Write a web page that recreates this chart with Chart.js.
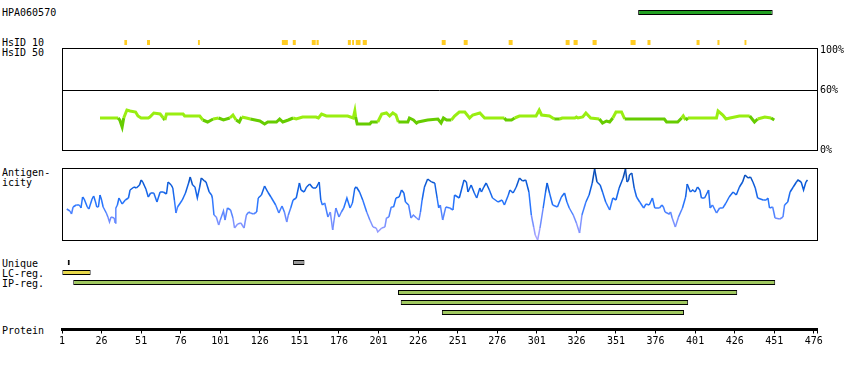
<!DOCTYPE html>
<html>
<head>
<meta charset="utf-8">
<script src="https://cdn.jsdelivr.net/npm/chart.js@4.4.0/dist/chart.umd.min.js"></script>
<style>
  body { margin: 0; background: #fff; }
  #wrap { position: relative; width: 850px; height: 370px; background: #fff; overflow: hidden; }
  #wrap canvas { position: absolute; left: 0; }
  .lbl { position: absolute; left: 2px; font: 10px/10px 'DejaVu Sans Mono', monospace; color: #000; white-space: pre; }
</style>
</head>
<body>
<div id="wrap">
  <div class="lbl" style="top:8px">HPA060570</div>
  <div class="lbl" style="top:38px">HsID 10</div>
  <div class="lbl" style="top:48px">HsID 50</div>
  <div class="lbl" style="top:168px">Antigen-</div>
  <div class="lbl" style="top:178px">icity</div>
  <div class="lbl" style="top:259px">Unique</div>
  <div class="lbl" style="top:269px">LC-reg.</div>
  <div class="lbl" style="top:279px">IP-reg.</div>
  <div class="lbl" style="top:326px">Protein</div>

  <canvas id="topTracks" width="850" height="50" style="top:0px"></canvas>
  <canvas id="hsidChart" width="850" height="122" style="top:38px"></canvas>
  <canvas id="antigenChart" width="850" height="90" style="top:160px"></canvas>
  <canvas id="regionTracks" width="850" height="70" style="top:250px"></canvas>
  <canvas id="proteinAxis" width="850" height="70" style="top:300px"></canvas>
</div>

<script>
// ---- data (residue positions) ----
const proteinLength = 478;
const proteinTicks = [1, 26, 51, 76, 101, 126, 151, 176, 201, 226, 251, 276, 301, 326, 351, 376, 401, 426, 451, 476];

const hpaEpitope = [365, 450];
const hsid10Ranges = [
  [40.4, 42.1], [54.7, 56.6], [86.9, 88.1], [139.9, 143.7], [146.8, 148.7], [158.8, 161.3],
  [161.8, 163.2], [181.6, 183.5], [184.3, 185.5], [186.6, 189.6], [191, 193.6], [240.9, 243.4],
  [254.8, 257.3], [283.2, 285.7], [319.2, 321.7], [324.2, 326.8], [336.2, 338.8], [360.2, 363.4],
  [370.9, 372.8], [401.9, 403.8], [415.1, 416.4], [432.2, 433.4]
];
const uniqueRanges = [[4.6, 5.9], [147, 154.2]];
const lcRegions = [[1.2, 19.1]];
const ipRegions = [[8.1, 451.6], [213.3, 427.6], [215, 396.6], [241, 394]];

// HsID 50 identity (%)
const hsidResidue = [25, 36.5, 37.5, 39, 40, 42, 44, 47.5, 49, 51, 55.5, 56.5, 59, 63, 65, 66, 67, 77.5, 78.5, 88,
  90, 93, 96.5, 100, 103, 107, 109, 111, 113, 114.5, 117.5, 120, 126, 129, 131, 136.5, 138.5, 140.5, 144, 147,
  149, 153, 161.5, 163, 165, 168, 181.5, 185, 186, 186.5, 187.5, 195.5, 196.5, 200.5, 203, 206, 208, 210, 212, 213.5,
  219.5, 220.5, 223, 225, 226, 232, 238.5, 240.5, 242, 244, 247, 249, 252, 255.5, 258.5, 260.5, 265, 268, 280.5, 281.5,
  285, 287, 290, 300.5, 302.5, 304, 309, 312, 315.5, 317, 325, 326, 327, 330, 332, 335, 340.5, 341.5, 342.5, 345,
  347, 349, 351, 354.5, 356.5, 381.5, 383, 390, 392.5, 393.5, 395, 396.5, 414.5, 415.5, 418.5, 420.5, 423, 429, 435.5, 438.5,
  440.5, 445, 449, 451];
const hsidIdentity = [32, 32, 30, 23, 32, 40, 39, 38, 34, 32, 32, 33, 37, 36, 32, 30, 36, 36, 34, 34,
  30, 28, 31, 32, 30, 32, 35, 30, 28, 33, 32, 31, 29, 26, 28, 28, 31, 28, 30, 32,
  31, 33, 33, 32, 36, 34, 34, 32, 39, 33, 26, 26, 28, 28, 36, 37, 34, 37, 35, 28,
  28, 32, 30, 27, 28, 30, 31, 27, 32, 30, 30, 34, 38, 38, 32, 35, 37, 32, 32, 30,
  30, 32, 34, 34, 40, 35, 34, 31, 31, 32, 32, 33, 32, 33, 37, 32, 31, 29, 27, 29,
  28, 32, 38, 38, 31, 31, 28, 28, 32, 34, 30, 32, 32, 39, 35, 31, 32, 34, 34, 28,
  31, 33, 32, 30];

// Antigenicity profile
const antigenResidue = [4, 6, 7, 8, 10, 12, 13, 14, 15, 17, 18, 20, 21, 22, 23, 24, 25, 26, 27, 29,
  30, 31, 32, 34, 34.5, 35, 36, 37, 39, 41, 43, 44, 46.5, 48, 50, 51, 52, 54, 55.5, 57,
  59, 61, 63, 65, 67, 68, 70, 71, 72, 73, 74, 77, 79, 81, 82, 83.5, 85, 86.5, 88, 89,
  91, 92, 94, 95.5, 96, 97, 98.5, 100, 101, 103, 104, 105.5, 107.5, 109, 110, 112, 114, 116, 117.5, 119,
  120, 122, 124, 125, 127, 129, 131, 133, 136, 138, 140, 141.5, 143, 144, 145.5, 147, 149, 151, 152, 154,
  155.5, 157.5, 159.5, 161.5, 163.5, 164.5, 165.5, 167, 169, 170.5, 172, 174, 176, 177.5, 179, 181, 183, 184.5, 186, 187,
  189, 191, 193.5, 195.5, 197.5, 199.5, 200.5, 203, 205, 206, 207.5, 209, 210.5, 212, 214, 215.5, 217, 218, 220, 221.5,
  223, 225, 226.5, 227.5, 228.5, 230, 232, 234.5, 236.5, 238, 239, 240, 241.5, 243.5, 246, 248, 249, 252, 255, 256.5,
  257.5, 259.5, 261.5, 263, 265, 266, 267.5, 269, 271, 273, 276.5, 279, 280.5, 283, 284, 286, 288, 290, 292, 294,
  296, 297.5, 299, 300, 301.5, 303, 305, 306.5, 307.5, 309, 311, 314, 316.5, 318.5, 320, 321.5, 324, 326, 328, 329.5,
  332, 334, 336, 337.5, 339, 341, 342.5, 344.5, 347, 349, 351, 353, 355.5, 357, 358, 359, 359.5, 361, 362.5, 364,
  366, 368.5, 370, 372, 374, 375.5, 378.5, 380, 381, 382, 384.5, 385.5, 386.5, 388.5, 390.5, 393, 395, 396, 398, 399.5,
  401, 402.5, 404, 405, 407, 409.5, 410.5, 412, 414.5, 416.5, 418.5, 420.5, 422.5, 425, 427, 429, 431, 432.5, 434.5, 436,
  437.5, 439, 440.5, 444, 446, 447, 448, 450, 451.5, 454.5, 456.5, 457.5, 459.5, 461, 463, 465, 466, 468, 469.5, 471, 472];
const antigenScore = [31, 29, 26, 33, 35, 35, 32, 43, 41, 33, 31, 41, 44, 39, 33, 33, 45, 40, 33, 27,
  23, 18, 23, 22, 17, 32, 35, 42, 36, 40, 42, 50, 53, 52, 55, 60, 58, 51, 43, 47,
  47, 38, 48, 48, 46, 58, 55, 52, 40, 27, 33, 40, 47, 57, 63, 55, 53, 42, 53, 62,
  59, 58, 48, 45, 42, 25, 23, 15, 20, 29, 20, 32, 30, 22, 12, 16, 17, 12, 25, 28,
  27, 26, 28, 42, 45, 54, 48, 43, 35, 27, 34, 28, 18, 25, 32, 40, 42, 57, 50, 48,
  53, 56, 52, 52, 58, 40, 35, 37, 23, 28, 10, 32, 23, 28, 32, 42, 32, 37, 52, 53,
  48, 40, 28, 20, 13, 12, 8, 12, 13, 22, 23, 33, 33, 42, 43, 50, 47, 38, 35, 22,
  25, 22, 20, 28, 40, 53, 61, 58, 57, 42, 32, 35, 20, 33, 32, 30, 45, 42, 60, 58,
  48, 55, 47, 42, 52, 48, 53, 57, 50, 42, 38, 40, 35, 45, 50, 47, 53, 62, 59, 60,
  48, 25, 13, 5, 0, 12, 32, 48, 57, 47, 35, 33, 43, 47, 38, 32, 25, 17, 7, 25,
  38, 45, 57, 71, 58, 55, 48, 38, 30, 42, 40, 52, 62, 71, 58, 60, 65, 67, 52, 43,
  38, 32, 36, 35, 42, 32, 32, 35, 33, 28, 26, 28, 22, 13, 23, 32, 43, 56, 48, 50,
  48, 53, 50, 42, 42, 50, 32, 35, 27, 32, 32, 37, 43, 48, 45, 53, 58, 65, 62, 63,
  58, 52, 42, 40, 40, 42, 32, 33, 22, 21, 23, 35, 38, 48, 53, 58, 60, 58, 50, 58, 60];

// ---- shared setup ----
Chart.defaults.font.family = "'DejaVu Sans Mono', monospace";
Chart.defaults.font.size = 10;
Chart.defaults.color = '#000';
Chart.defaults.animation = false;
Chart.defaults.responsive = false;
Chart.defaults.devicePixelRatio = 1;
Chart.defaults.plugins.legend.display = false;
Chart.defaults.plugins.tooltip.enabled = false;

const xScale = { type: 'linear', min: 1, max: proteinLength, display: false };

// frame round the plot area of the two profile panels
const boxPlugin = {
  id: 'box',
  afterDraw(chart) {
    const { ctx, chartArea: a } = chart;
    ctx.save();
    ctx.strokeStyle = '#000';
    ctx.lineWidth = 1;
    ctx.strokeRect(Math.round(a.left) + 0.5, Math.round(a.top) + 0.5,
      Math.round(a.right - a.left), Math.round(a.bottom - a.top));
    ctx.restore();
  }
};

const toBars = (ranges, row) => ranges.map(r => ({ x: r, y: row }));

// ---- HPA epitope + HsID 10 ticks ----
new Chart(document.getElementById('topTracks'), {
  type: 'bar',
  data: {
    labels: ['HPA', 'gap1', 'gap2', 'HsID10'],
    datasets: [
      { data: toBars([hpaEpitope], 'HPA'), backgroundColor: '#22a022', borderColor: '#000', borderWidth: 1 },
      { data: toBars(hsid10Ranges, 'HsID10'), backgroundColor: '#ffcc22', borderWidth: 0 }
    ]
  },
  options: {
    indexAxis: 'y',
    layout: { padding: { left: 62, right: 33, top: 7.5, bottom: 2.5 } },
    datasets: { bar: { barThickness: 5, grouped: false, borderSkipped: false, inflateAmount: 0 } },
    scales: { x: xScale, y: { type: 'category', display: false } }
  }
});

// ---- HsID 50 panel ----
new Chart(document.getElementById('hsidChart'), {
  type: 'line',
  data: {
    datasets: [{
      data: hsidResidue.map((r, i) => ({ x: r, y: hsidIdentity[i] })),
      borderWidth: 3,
      pointRadius: 0,
      borderColor: '#99ee11',
      segment: {
        borderColor: ctx => ((ctx.p0.parsed.y + ctx.p1.parsed.y) / 2 < 31.5 ? '#66cc00' : '#99ee11')
      }
    }]
  },
  options: {
    layout: { padding: { left: 62, right: 0, top: 10, bottom: 10 } },
    scales: {
      x: xScale,
      y: {
        position: 'right', min: 0, max: 102,
        afterBuildTicks: axis => { axis.ticks = [0, 60, 100].map(v => ({ value: v })); },
        afterFit: axis => { axis.width = 33; },
        ticks: { padding: 3, callback: v => v + '%' },
        grid: { drawTicks: false, color: ctx => (ctx.tick && ctx.tick.value === 60 ? '#000' : 'rgba(0,0,0,0)') },
        border: { display: false }
      }
    }
  },
  plugins: [boxPlugin]
});

// ---- Antigenicity panel ----
const lowC = [178, 168, 255], midLowC = [110, 140, 255], midC = [40, 118, 255], hiC = [12, 92, 220], topC = [5, 66, 160];
function antColor(v) {
  const stops = [[0, lowC], [0.3, midLowC], [0.5, midC], [0.75, hiC], [1, topC]];
  const t = Math.max(0, Math.min(1, v / 72));
  for (let i = 1; i < stops.length; i++) {
    if (t <= stops[i][0]) {
      const [t0, c0] = stops[i - 1], [t1, c1] = stops[i];
      const f = (t - t0) / (t1 - t0);
      return 'rgb(' + c0.map((c, k) => Math.round(c + (c1[k] - c) * f)).join(',') + ')';
    }
  }
  return 'rgb(' + topC.join(',') + ')';
}

new Chart(document.getElementById('antigenChart'), {
  type: 'line',
  data: {
    datasets: [{
      data: antigenResidue.map((r, i) => ({ x: r, y: antigenScore[i] })),
      borderWidth: 1.5,
      pointRadius: 0,
      borderColor: '#2878ff',
      segment: { borderColor: ctx => antColor((ctx.p0.parsed.y + ctx.p1.parsed.y) / 2) }
    }]
  },
  options: {
    layout: { padding: { left: 62, right: 33, top: 8, bottom: 10 } },
    scales: { x: xScale, y: { min: 0, max: 72, display: false } }
  },
  plugins: [boxPlugin]
});

// ---- Unique / LC-reg / IP-reg tracks ----
const regionRows = ['Unique', 'LC-reg.', 'IP-1', 'IP-2', 'IP-3', 'IP-4'];
new Chart(document.getElementById('regionTracks'), {
  type: 'bar',
  data: {
    labels: regionRows,
    datasets: [
      { data: toBars(uniqueRanges, 'Unique'), backgroundColor: ['#000', '#999'], borderColor: '#000', borderWidth: 1 },
      { data: toBars(lcRegions, 'LC-reg.'), backgroundColor: '#e8d84a', borderColor: '#000', borderWidth: 1 },
      { data: ipRegions.map((r, i) => ({ x: r, y: regionRows[2 + i] })), backgroundColor: '#a0c860', borderColor: '#000', borderWidth: 1 }
    ]
  },
  options: {
    indexAxis: 'y',
    layout: { padding: { left: 62, right: 33, top: 7.5, bottom: 2.5 } },
    datasets: { bar: { barThickness: 5, grouped: false, borderSkipped: false, inflateAmount: 0 } },
    scales: { x: xScale, y: { type: 'category', display: false } }
  }
});

// ---- Protein residue axis ----
new Chart(document.getElementById('proteinAxis'), {
  type: 'line',
  data: { datasets: [] },
  options: {
    layout: { padding: { left: 62, right: 33, top: 0, bottom: 0 } },
    scales: {
      x: {
        type: 'linear', min: 1, max: proteinLength, position: 'bottom',
        afterBuildTicks: axis => { axis.ticks = proteinTicks.concat([proteinLength]).map(v => ({ value: v })); },
        afterFit: axis => { axis.height = 40.5; },
        ticks: { autoSkip: false, maxRotation: 0, padding: 2, callback: v => (proteinTicks.includes(v) ? String(v) : '') },
        grid: { drawOnChartArea: false, drawTicks: true, tickLength: 4, color: '#000', lineWidth: 1 },
        border: { display: true, width: 3, color: '#000' }
      },
      y: { display: false, min: 0, max: 1 }
    }
  }
});
</script>
</body>
</html>
